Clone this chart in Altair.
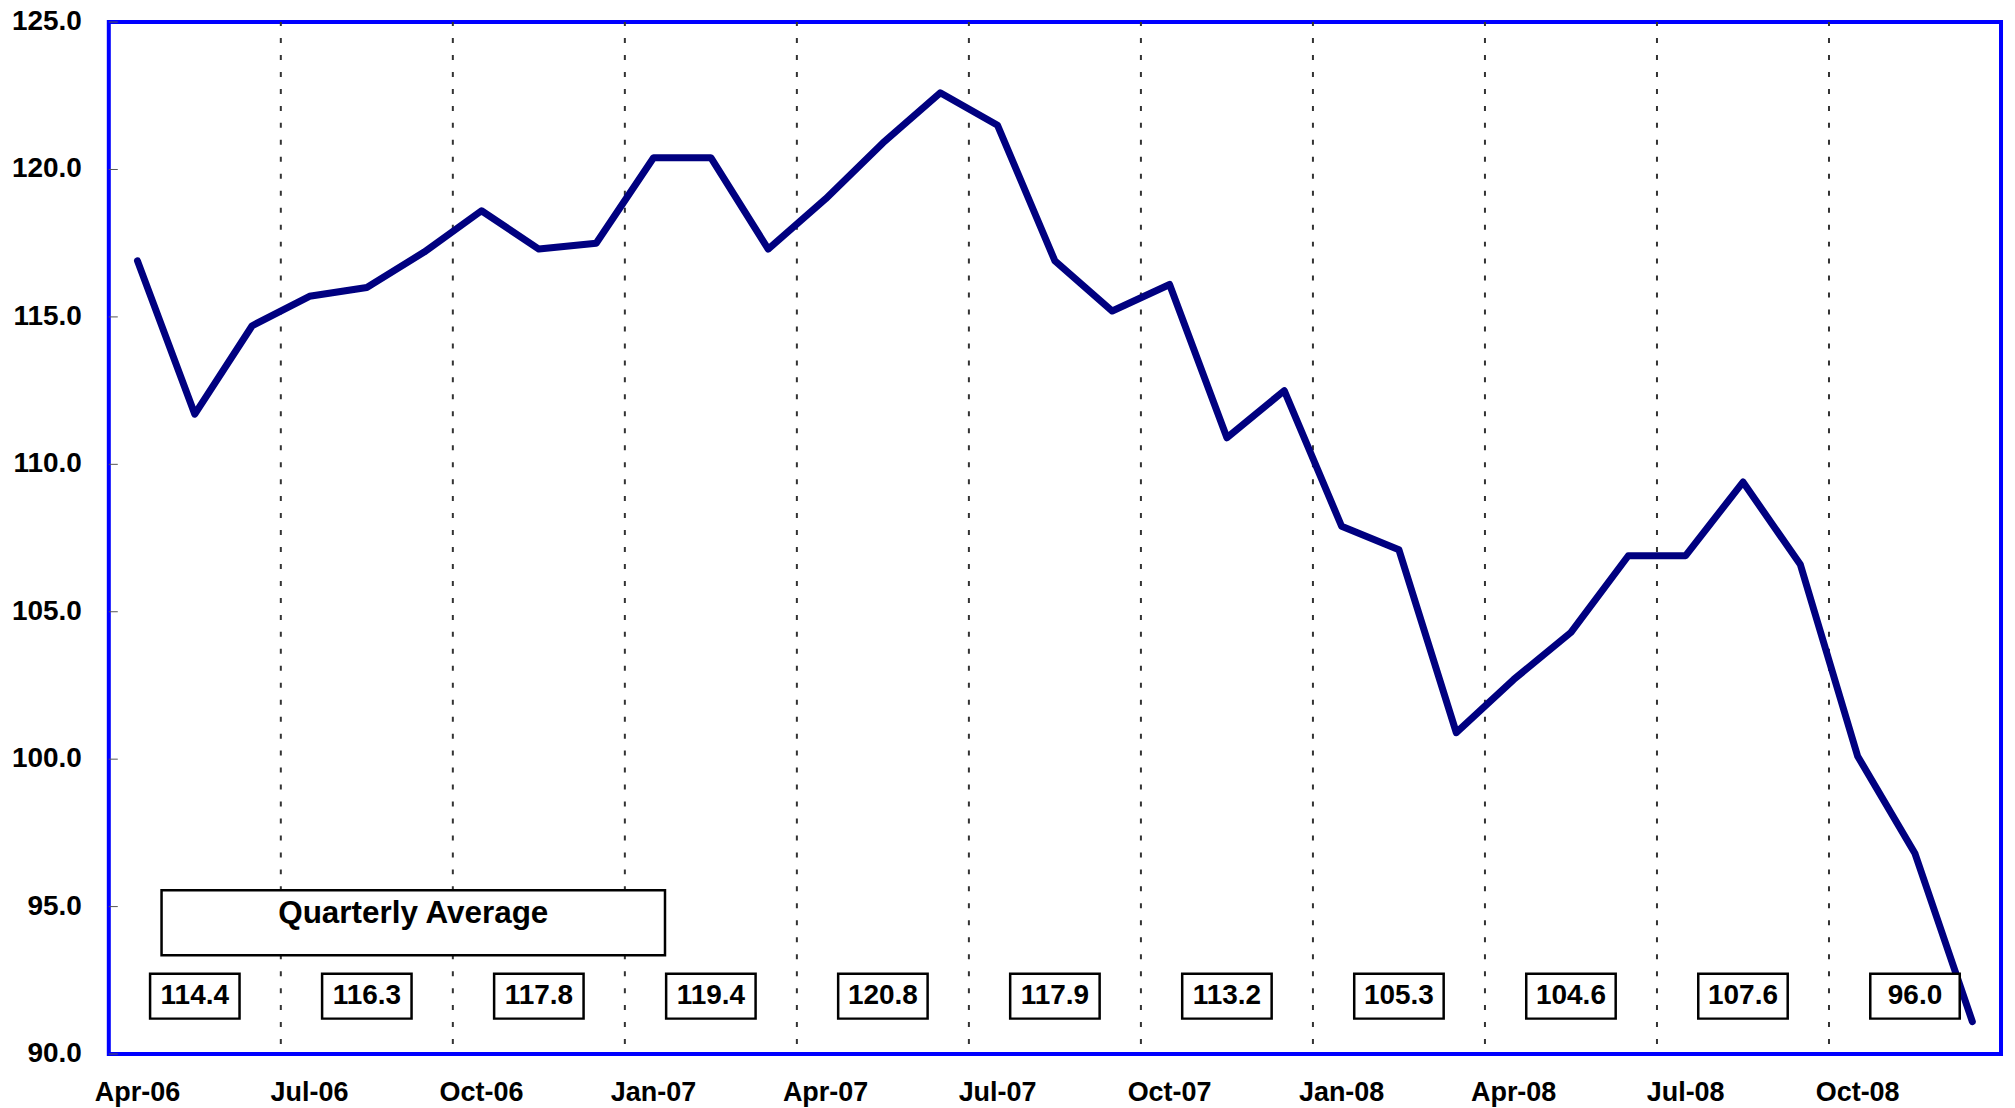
import altair as alt
import pandas as pd

# ---------------- data ----------------
months = ["Apr-06", "May-06", "Jun-06", "Jul-06", "Aug-06", "Sep-06", "Oct-06", "Nov-06", "Dec-06",
          "Jan-07", "Feb-07", "Mar-07", "Apr-07", "May-07", "Jun-07", "Jul-07", "Aug-07", "Sep-07",
          "Oct-07", "Nov-07", "Dec-07", "Jan-08", "Feb-08", "Mar-08", "Apr-08", "May-08", "Jun-08",
          "Jul-08", "Aug-08", "Sep-08", "Oct-08", "Nov-08", "Dec-08"]
index_values = [116.9, 111.7, 114.7, 115.7, 116.0, 117.2, 118.6, 117.3, 117.5,
                120.4, 120.4, 117.3, 119.0, 120.9, 122.6, 121.5, 116.9, 115.2,
                116.1, 110.9, 112.5, 107.9, 107.1, 100.9, 102.7, 104.3, 106.9,
                106.9, 109.4, 106.6, 100.1, 96.8, 91.1]
quarter_labels = ["Apr-06", "Jul-06", "Oct-06", "Jan-07", "Apr-07", "Jul-07",
                  "Oct-07", "Jan-08", "Apr-08", "Jul-08", "Oct-08"]
quarterly_avg = ["114.4", "116.3", "117.8", "119.4", "120.8", "117.9",
                 "113.2", "105.3", "104.6", "107.6", "96.0"]
avg_title = ["Quarterly Average"]
y_ticks = [90, 95, 100, 105, 110, 115, 120, 125]
page_number = ["40"]

# ---------------- layout ----------------
FONT = "Liberation Sans"
W, H = 1896, 1034
N = len(months)
XS = alt.Scale(domain=[0, N], nice=False, zero=False)
YS = alt.Scale(domain=[90, 125], nice=False, zero=False)

line_df = pd.DataFrame({"month": months, "value": index_values})
line_df["pos"] = [i + 0.5 for i in range(N)]

grid_df = pd.DataFrame({"b": [3 * k for k in range(1, len(quarter_labels))]})
tick_df = pd.DataFrame({"t": y_ticks})
xlab_df = pd.DataFrame({"label": quarter_labels,
                        "pos": [3 * k + 0.5 for k in range(len(quarter_labels))]})
box_df = pd.DataFrame({"q": list(range(len(quarterly_avg))), "label": quarterly_avg})
title_df = pd.DataFrame({"label": avg_title})
page_df = pd.DataFrame({"label": page_number})

grid = alt.Chart(grid_df).mark_rule(color="#333333", strokeWidth=2,
                                    strokeDash=[5, 12], strokeDashOffset=1).encode(
    x=alt.X("b:Q", scale=XS, axis=None),
    y=alt.value(0), y2=alt.value(H))

ticks = alt.Chart(tick_df).mark_rule(color="#555555", strokeWidth=1).encode(
    y=alt.Y("t:Q", scale=YS, axis=None),
    x=alt.value(0), x2=alt.value(9))

ylabels = alt.Chart(tick_df).mark_text(font=FONT, fontSize=28, fontWeight="bold",
                                       color="black", align="right", baseline="middle",
                                       dy=0).encode(
    y=alt.Y("t:Q", scale=YS, axis=None),
    x=alt.value(-27),
    text=alt.Text("t:Q", format=".1f"))

xlabels = alt.Chart(xlab_df).mark_text(font=FONT, fontSize=27, fontWeight="bold",
                                       color="black", align="center", baseline="top").encode(
    x=alt.X("pos:Q", scale=XS, axis=None),
    y=alt.value(H + 26),
    text="label:N")

line = alt.Chart(line_df).mark_line(color="#000080", strokeWidth=7,
                                    strokeJoin="round", strokeCap="round").encode(
    x=alt.X("pos:Q", scale=XS, axis=None),
    y=alt.Y("value:Q", scale=YS, axis=None))

title_box = alt.Chart(title_df).mark_rect(fill="white", stroke="black", strokeWidth=2.5).encode(
    x=alt.datum(0.92, scale=XS, axis=None), x2=alt.datum(9.7),
    y=alt.datum(95.55, scale=YS, axis=None), y2=alt.datum(93.35))
title_text = alt.Chart(title_df).mark_text(font=FONT, fontSize=31.5, fontWeight="bold",
                                           color="black", baseline="middle", align="center").encode(
    x=alt.datum(5.31, scale=XS, axis=None), y=alt.datum(94.75, scale=YS, axis=None),
    text="label:N")

boxes = alt.Chart(box_df).transform_calculate(
    x1="datum.q * 3 + 1.5 - 0.78", x2="datum.q * 3 + 1.5 + 0.78"
).mark_rect(fill="white", stroke="black", strokeWidth=2.5).encode(
    x=alt.X("x1:Q", scale=XS, axis=None), x2="x2:Q",
    y=alt.datum(92.72, scale=YS, axis=None), y2=alt.datum(91.2))
box_text = alt.Chart(box_df).transform_calculate(
    cx="datum.q * 3 + 1.5"
).mark_text(font=FONT, fontSize=28, fontWeight="bold", color="black",
            baseline="middle", align="center").encode(
    x=alt.X("cx:Q", scale=XS, axis=None),
    y=alt.datum(91.98, scale=YS, axis=None), text="label:N")

page = alt.Chart(page_df).mark_text(font=FONT, fontSize=64, fontWeight="bold",
                                    color="#1a3580", align="left", baseline="top").encode(
    x=alt.value(W - 70), y=alt.value(H + 77), text="label:N")

chart = alt.layer(grid, ticks, line, title_box, title_text, boxes, box_text,
                  ylabels, xlabels, page).properties(
    width=W, height=H,
    autosize=alt.AutoSizeParams(type="none"),
    padding={"left": 101, "top": 13, "right": 6, "bottom": 52},
    background="white",
).configure_view(stroke="#0000FF", strokeWidth=4)

chart.save("out.html", embed_options={"renderer": "svg", "actions": False})
